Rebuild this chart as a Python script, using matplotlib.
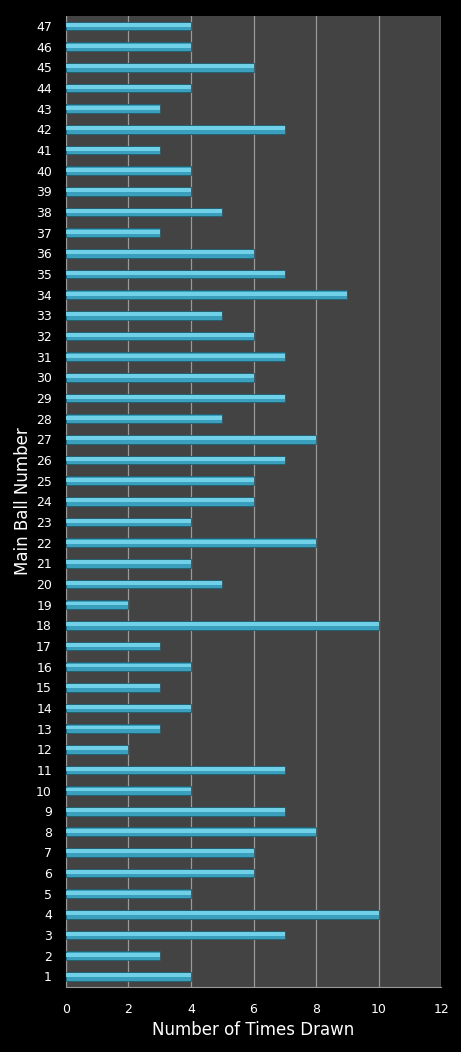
import matplotlib
matplotlib.use('Agg')
import matplotlib.pyplot as plt
import numpy as np

# main ball numbers and how often each was drawn
balls = list(range(1, 48))
times_drawn = [4, 3, 7, 10, 4, 6, 6, 8, 7, 4,
               7, 2, 3, 4, 3, 4, 3, 10, 2, 5,
               4, 8, 4, 6, 6, 7, 8, 5, 7, 6,
               7, 6, 5, 9, 7, 6, 3, 5, 4, 4,
               3, 7, 3, 4, 6, 4, 4]
x_ticks = [0, 2, 4, 6, 8, 10, 12]

fig = plt.figure(figsize=(4.61, 10.52), dpi=100, facecolor='black')
ax = fig.add_axes([0.143, 0.062, 0.814, 0.923])
ax.set_facecolor('#434343')

y = np.array(balls)
vals = np.array(times_drawn)
bar_h = 0.42

# base bar plus a lighter strip on top for the bevelled look
ax.barh(y, vals, height=bar_h, color='#3a9fbd', edgecolor='#1f5e70',
        linewidth=0.6, zorder=3)
ax.barh(y + bar_h * 0.12, vals, height=bar_h * 0.45, color='#6fd0e8',
        linewidth=0, zorder=4)

ax.set_xlim(0, 12)
ax.set_ylim(0.5, 47.5)
ax.set_xticks(x_ticks)
ax.set_yticks(balls)
ax.set_yticklabels([str(b) for b in balls])
ax.xaxis.grid(True, color='#9a9a9a', linewidth=0.9, zorder=1)
ax.set_axisbelow(True)

for side in ['top', 'right']:
    ax.spines[side].set_visible(False)
ax.spines['left'].set_color('#9a9a9a')
ax.spines['bottom'].set_color('#9a9a9a')

ax.tick_params(axis='both', colors='white', labelsize=9, length=0)
ax.tick_params(axis='x', pad=12)
ax.tick_params(axis='y', pad=10)

ax.set_xlabel('Number of Times Drawn', color='white', fontsize=12, labelpad=3)
ax.set_ylabel('Main Ball Number', color='white', fontsize=12)
ax.yaxis.set_label_coords(-0.09, 0.5)

fig.savefig('out.png', dpi=100, facecolor='black')
